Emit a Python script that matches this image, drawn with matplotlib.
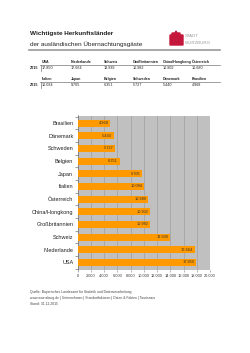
import numpy as np
import matplotlib
matplotlib.use("Agg")
import matplotlib.pyplot as plt
from matplotlib.patches import Polygon

countries = ["USA", "Niederlande", "Schweiz", "Großbritannien", "China/Hongkong",
             "Österreich", "Italien", "Japan", "Belgien", "Schweden", "Dänemark", "Brasilien"]
guests = [17850, 17664, 13939, 10982, 10902, 10680, 10084, 9705, 6351, 5727, 5440, 4968]
guest_labels = ["17.850", "17.664", "13.939", "10.982", "10.902", "10.680",
                "10.084", "9.705", "6.351", "5.727", "5.440", "4.968"]
x_ticks = [0, 2000, 4000, 6000, 8000, 10000, 12000, 14000, 16000, 18000, 20000]
x_ticklabels = ["0", "2.000", "4.000", "6.000", "8.000", "10.000", "12.000",
                "14.000", "16.000", "18.000", "20.000"]
year = "2015"

plt.rcParams['font.family'] = ['Liberation Sans', 'DejaVu Sans']

fig = plt.figure(figsize=(2.5, 3.53), dpi=100)
W, H = 250, 353

def fx(px):
    return px / W

def fy(py):
    return 1 - py / H

# header
fig.text(fx(30), fy(33), "Wichtigste Herkunftsländer", fontsize=4.6, fontweight="bold",
         va="center", ha="left", color="#222222")
fig.text(fx(30), fy(44), "der ausländischen Übernachtungsgäste", fontsize=4.6,
         va="center", ha="left", color="#222222")
fig.add_artist(plt.Line2D([fx(29), fx(220)], [fy(49.5), fy(49.5)], color="#999999", lw=1.2))

# logo
logo = Polygon([(fx(170), fy(45)), (fx(170), fy(35)), (fx(172), fy(35)), (fx(172), fy(33)),
                (fx(175), fy(33)), (fx(176), fy(31)), (fx(177), fy(33)), (fx(180), fy(33)),
                (fx(180), fy(35)), (fx(183), fy(35)), (fx(183), fy(45))],
               closed=True, color="#c4173b", transform=fig.transFigure)
fig.add_artist(logo)
fig.text(fx(184.5), fy(36), "STADT", fontsize=3.2, color="#999999", va="center", ha="left")
fig.text(fx(184.5), fy(42.5), "WÜRZBURG", fontsize=3.2, color="#999999", va="center", ha="left")

# small table
cols_x = [42, 71, 104, 133, 163, 192]
rows = [(countries[:6], guest_labels[:6], 62, 68), (countries[6:], guest_labels[6:], 79, 85)]
for names, vals, yh, yv in rows:
    for cx, n, v in zip(cols_x, names, vals):
        fig.text(fx(cx), fy(yh), n, fontsize=2.6, fontweight="bold", va="center", ha="left",
                 color="#222222")
        fig.text(fx(cx), fy(yv), v, fontsize=2.7, va="center", ha="left", color="#222222")
    fig.text(fx(30), fy(yv), year, fontsize=2.7, fontweight="bold", va="center", ha="left",
             color="#222222")
    fig.add_artist(plt.Line2D([fx(40), fx(220)], [fy(yh + 3), fy(yh + 3)],
                              color="#777777", lw=0.5))
    fig.add_artist(plt.Line2D([fx(41), fx(41)], [fy(yh + 3), fy(yv + 2.5)],
                              color="#777777", lw=0.5))

# bar chart
ax = fig.add_axes([fx(77.5), fy(270), fx(210) - fx(77.5), fy(115.5) - fy(270)])
ax.set_facecolor("#c0c0c0")
y = np.arange(len(countries))
ax.barh(y, guests, height=0.55, color="#ff9900", zorder=3)
ax.set_xlim(0, 20000)
ax.set_ylim(-0.6, len(countries) - 0.4)
ax.set_xticks(x_ticks)
ax.set_xticklabels(x_ticklabels, fontsize=2.8, color="#333333")
ax.set_yticks(y)
ax.set_yticklabels(countries, fontsize=4.0, color="#222222")
ax.set_yticks(np.arange(-0.5, len(countries), 1), minor=True)
ax.tick_params(axis="y", which="major", length=0, pad=3)
ax.tick_params(axis="y", which="minor", length=2, width=0.5, color="#777777")
ax.tick_params(axis="x", length=1.5, width=0.4, pad=1.5, color="#777777")
ax.grid(axis="x", color="#a0a0a0", lw=0.5, zorder=1)
for side in ["top", "right", "bottom"]:
    ax.spines[side].set_visible(False)
ax.spines["left"].set_color("#777777")
ax.spines["left"].set_linewidth(0.5)
for yi, g, lab in zip(y, guests, guest_labels):
    ax.text(g - 250, yi, lab, fontsize=2.8, ha="right", va="center", color="#333333", zorder=4)

# footer
footer = ["Quelle: Bayerisches Landesamt für Statistik und Datenverarbeitung",
          "www.wuerzburg.de | Unternehmen | Standortfaktoren | Daten & Fakten | Tourismus",
          "Stand: 31.12.2015"]
for i, line in enumerate(footer):
    fig.text(fx(30), fy(292 + i * 6), line, fontsize=2.4, va="center", ha="left",
             color="#444444")

fig.savefig("out.png", dpi=100)
